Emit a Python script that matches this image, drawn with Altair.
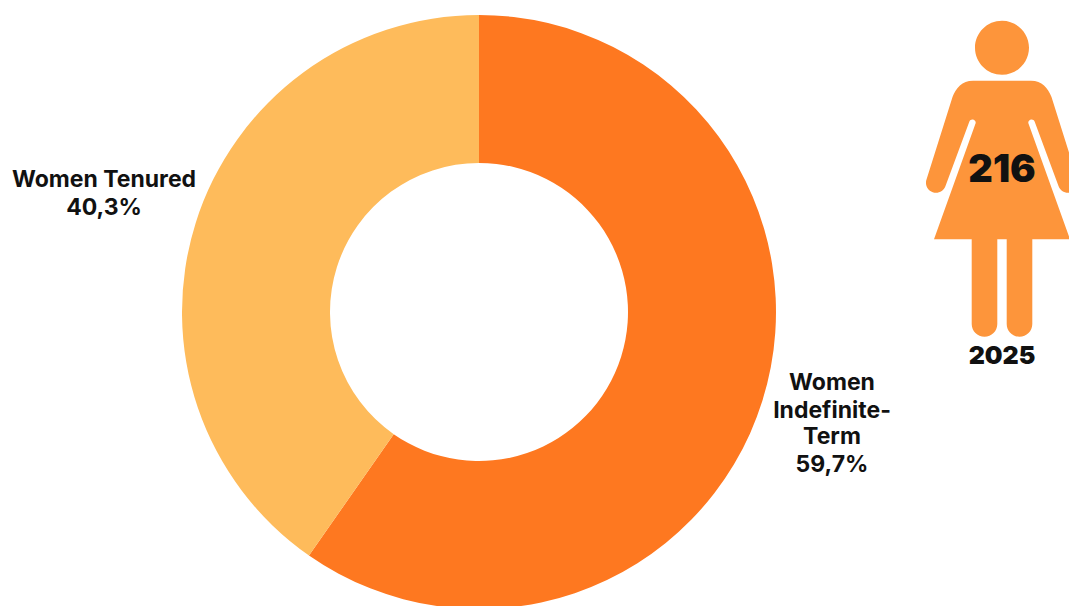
import altair as alt
import pandas as pd

# Contract shares of women staff, percent
groups = ["Women Indefinite-Term", "Women Tenured"]
shares = [59.7, 40.3]
order_rank = [1, 2]
palette = ["#FE7820", "#FEBB5B"]

headcount = "216"
year = "2025"

FIG_COLOR = "#FD953B"
TEXT_FONT = "Inter"


def pct(v):
    return f"{v:.1f}".replace(".", ",") + "%"


# Standing woman pictogram, local units centred on the figure's axis
figure_path = (
    "M-27,-152.2 A27,27 0 1 1 27,-152.2 A27,27 0 1 1 -27,-152.2 Z "
    "M-29,-119.3 L29,-119.3 C40,-119.3 46,-112 49.5,-103 L75.5,-20.5 "
    "A10,10 0 0 1 56.5,-14 L32.7,-78.3 A3.3,3.3 0 0 0 26.3,-77 L68,39.3 "
    "L30.3,39.3 L30.3,124 A12.8,12.8 0 0 1 4.7,124 L4.7,39.3 L-4.7,39.3 "
    "L-4.7,124 A12.8,12.8 0 0 1 -30.3,124 L-30.3,39.3 L-68,39.3 L-26.3,-77 "
    "A3.3,3.3 0 0 0 -32.7,-78.3 L-56.5,-14 A10,10 0 0 1 -75.5,-20.5 "
    "L-49.5,-103 C-46,-112 -40,-119.3 -29,-119.3 Z"
)

df = pd.DataFrame({"group": groups, "share": shares, "rank": order_rank})

donut = (
    alt.Chart(df)
    .mark_arc(innerRadius=149, outerRadius=297, stroke=None)
    .encode(
        theta=alt.Theta("share:Q", stack=True),
        color=alt.Color(
            "group:N",
            scale=alt.Scale(domain=groups, range=palette),
            legend=None,
        ),
        order=alt.Order("rank:Q"),
        x=alt.value(479),
        y=alt.value(312),
    )
)

pictogram = (
    alt.Chart(alt.Data(values=[{"n": headcount}]))
    .mark_point(shape=figure_path, filled=True, opacity=1, color=FIG_COLOR, size=4, strokeWidth=0)
    .encode(x=alt.value(1002), y=alt.value(200))
)


def label(line, x, y, size=23, weight=700):
    return (
        alt.Chart(alt.Data(values=[{"t": line}]))
        .mark_text(
            font=TEXT_FONT,
            fontSize=size,
            fontWeight=weight,
            color="#111111",
            align="center",
            baseline="middle",
        )
        .encode(x=alt.value(x), y=alt.value(y), text="t:N")
    )


chart = alt.layer(
    donut,
    pictogram,
    label("Women Tenured", 104, 180),
    label(pct(shares[1]), 104, 208),
    label("Women", 832, 383),
    label("Indefinite-", 832, 411),
    label("Term", 832, 437),
    label(pct(shares[0]), 832, 465),
    label(headcount, 1002, 171, size=38, weight=900),
    label(year, 1002, 356, size=25, weight=900),
).properties(
    width=1069,
    height=606,
    padding=0,
    autosize=alt.AutoSizeParams(type="none"),
    background="white",
).configure_view(stroke=None)

chart.save("out.html", embed_options={"renderer": "svg", "actions": False})
